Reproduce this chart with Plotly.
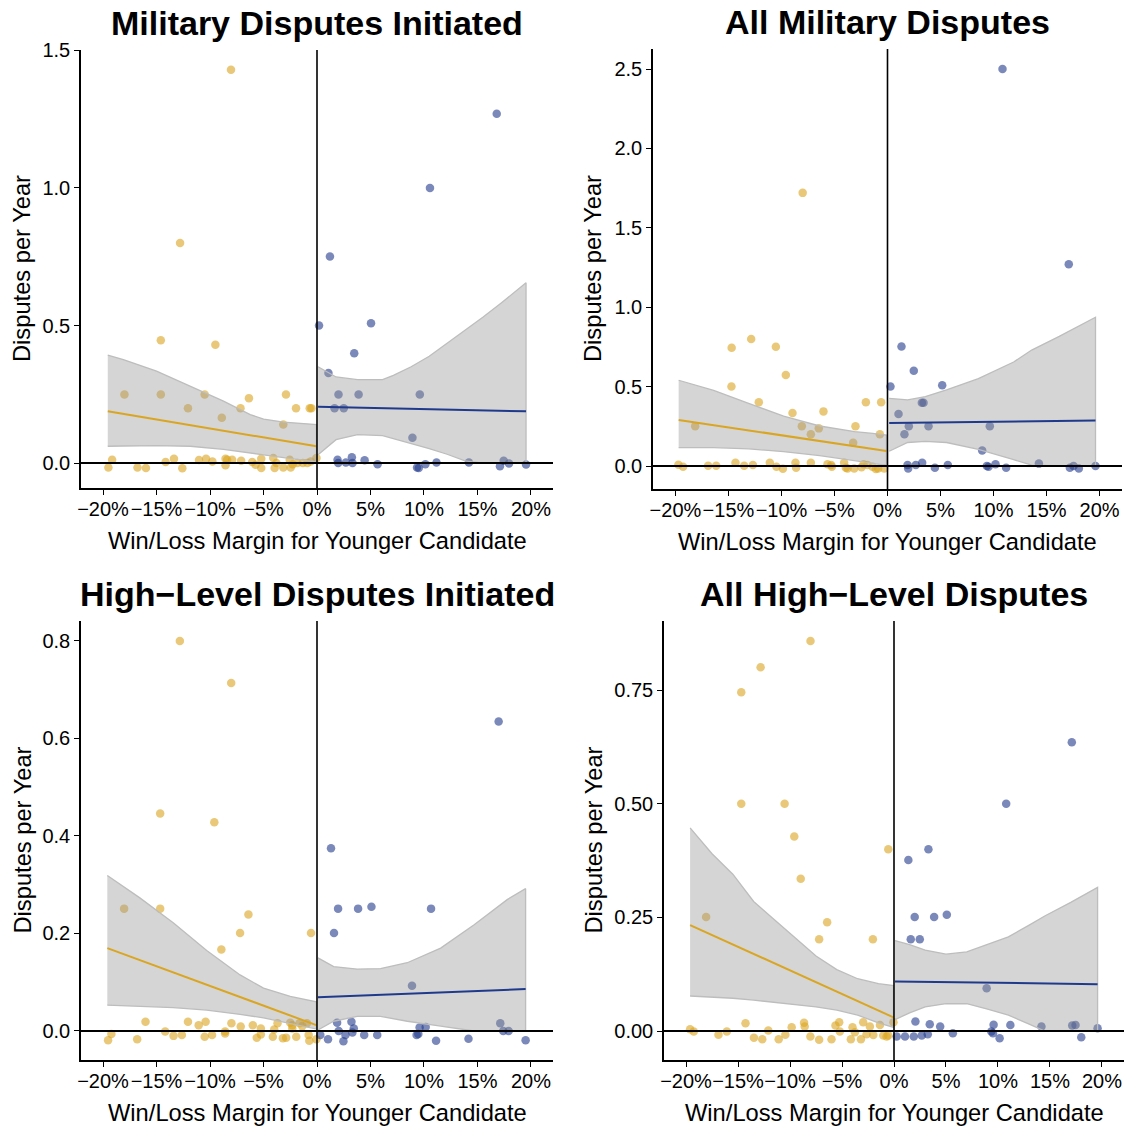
import plotly.graph_objects as go

W = H = 1129
FONT = "Liberation Sans, Arial, sans-serif"

# ---------------- data (x in percent margin, y in disputes per year) ----------------
titles = ["Military Disputes Initiated", "All Military Disputes",
          "High\u2212Level Disputes Initiated", "All High\u2212Level Disputes"]
x_title = "Win/Loss Margin for Younger Candidate"
y_title = "Disputes per Year"
x_tickvals = [-20, -15, -10, -5, 0, 5, 10, 15, 20]
x_ticktext = ["\u221220%", "\u221215%", "\u221210%", "\u22125%", "0%", "5%", "10%", "15%", "20%"]

# Panel 1: Military Disputes Initiated
p1_gold_x = [-8.04, -12.8, -14.6, -9.5, -18.0, -14.6, -10.5, -12.06, -6.36, -8.9, -7.15, -2.9, -1.96, -0.68, -0.52, -3.15,
             -19.15, -19.5, -16.78, -15.99, -14.15, -13.37, -12.59, -11.03, -10.37, -9.78, -8.55, -8.55, -8.4, -7.93,
             -7.09, -6.06, -5.74, -5.21, -5.21, -4.09, -3.96, -3.8, -3.15, -2.55, -2.46, -2.27, -1.83, -1.33, -0.9,
             -0.59, -0.05]
p1_gold_y = [1.43, 0.80, 0.446, 0.43, 0.249, 0.249, 0.249, 0.199, 0.236, 0.165, 0.199, 0.249, 0.199, 0.199, 0.199, 0.14,
             0.012, -0.016, -0.016, -0.018, 0.004, 0.016, -0.019, 0.011, 0.016, 0.006, 0.016, -0.008, 0.012, 0.012,
             0.008, 0.004, -0.006, 0.016, -0.018, 0.018, -0.018, 0.0, -0.016, 0.012, -0.016, -0.004, 0.0, 0.0, 0.0,
             0.006, 0.018]
p1_blue_x = [1.21, 10.56, 16.8, 0.19, 5.05, 3.48, 1.07, 2.01, 3.89, 9.61, 1.64, 2.5, 8.92,
             1.92, 1.98, 2.7, 3.26, 3.32, 4.45, 5.66, 9.35, 9.51, 10.13, 11.17, 14.2, 17.1, 17.45, 17.95, 19.54]
p1_blue_y = [0.751, 1.0, 1.27, 0.5, 0.508, 0.399, 0.327, 0.249, 0.249, 0.249, 0.199, 0.199, 0.092,
             0.012, 0.0, 0.002, 0.021, 0.0, 0.01, -0.004, -0.016, -0.018, -0.004, 0.002, 0.002, -0.012, 0.008,
             -0.002, -0.005]
p1_gold_fit_x = [-19.56, -0.05]
p1_gold_fit_y = [0.188, 0.061]
p1_blue_fit_x = [0.1, 19.54]
p1_blue_fit_y = [0.205, 0.188]
p1_band_left_x = [-19.56, -18.1, -15.0, -11.86, -8.74, -6.24, -4.99, -3.12, -1.24, -0.05]
p1_band_left_hi = [0.392, 0.376, 0.334, 0.279, 0.225, 0.176, 0.16, 0.149, 0.142, 0.14]
p1_band_left_lo = [0.061, 0.062, 0.063, 0.061, 0.05, 0.036, 0.03, 0.02, 0.011, 0.004]
p1_band_right_x = [0.1, 1.78, 3.79, 6.13, 7.14, 8.8, 10.49, 12.16, 13.84, 15.5, 17.19, 19.54]
p1_band_right_hi = [0.35, 0.313, 0.303, 0.303, 0.319, 0.35, 0.388, 0.435, 0.482, 0.53, 0.581, 0.655]
p1_band_right_lo = [0.03, 0.085, 0.103, 0.1, 0.09, 0.07, 0.052, 0.032, 0.008, 0.0, 0.0, 0.0]

# Panel 2: All Military Disputes
p2_gold_x = [-8.0, -14.7, -12.86, -10.53, -9.59, -14.72, -12.14, -8.96, -6.04, -2.04, -0.6, -18.14, -8.08, -7.23,
             -6.48, -3.02, -3.24, -0.72,
             -19.72, -19.28, -16.92, -16.16, -14.34, -13.52, -12.7, -11.1, -10.47, -9.87, -8.68, -8.62, -7.23,
             -5.66, -5.31, -5.25, -4.09, -3.93, -3.77, -3.14, -2.45, -2.26, -1.89, -1.42, -1.1, -0.88, -0.31]
p2_gold_y = [1.72, 0.745, 0.80, 0.751, 0.573, 0.50, 0.401, 0.334, 0.344, 0.401, 0.401, 0.25, 0.25, 0.2,
             0.237, 0.25, 0.147, 0.2,
             0.008, -0.004, 0.002, 0.002, 0.021, 0.002, 0.006, 0.021, -0.004, -0.017, 0.021, -0.011, 0.021,
             0.011, 0.006, -0.004, 0.021, -0.011, -0.015, -0.015, -0.008, 0.011, 0.006, -0.004, -0.019, -0.015,
             -0.015]
p2_blue_x = [10.85, 17.1, 1.32, 2.48, 0.28, 5.16, 3.24, 3.4, 1.04, 2.01, 3.87, 9.65, 1.6, 8.93, 14.28,
             1.89, 1.95, 2.67, 3.27, 4.47, 5.69, 9.37, 9.53, 10.19, 11.19, 17.2, 17.55, 18.05, 19.62]
p2_blue_y = [2.5, 1.27, 0.752, 0.60, 0.50, 0.508, 0.399, 0.399, 0.328, 0.25, 0.25, 0.25, 0.2, 0.097, 0.015,
             0.006, -0.015, 0.006, 0.021, -0.011, 0.006, 0.0, -0.004, 0.011, -0.011, -0.011, 0.0, -0.015, 0.0]
p2_gold_fit_x = [-19.7, -0.1]
p2_gold_fit_y = [0.29, 0.095]
p2_blue_fit_x = [0.16, 19.62]
p2_blue_fit_y = [0.271, 0.286]
p2_band_left_x = [-19.7, -16.4, -13.1, -9.8, -6.4, -3.1, -1.4, -0.1]
p2_band_left_hi = [0.54, 0.476, 0.394, 0.314, 0.252, 0.217, 0.205, 0.195]
p2_band_left_lo = [0.116, 0.116, 0.108, 0.09, 0.066, 0.035, 0.017, 0.004]
p2_band_right_x = [0.16, 1.9, 3.57, 5.57, 8.57, 11.9, 13.6, 16.2, 19.62]
p2_band_right_hi = [0.426, 0.416, 0.437, 0.48, 0.55, 0.655, 0.73, 0.816, 0.937]
p2_band_right_lo = [0.093, 0.148, 0.155, 0.148, 0.105, 0.04, 0.005, 0.0, 0.0]

# Panel 3: High-Level Disputes Initiated
p3_gold_x = [-12.82, -8.02, -14.66, -9.6, -18.03, -14.66, -6.41, -7.19, -8.94, -0.56,
             -19.22, -19.53, -16.81, -16.03, -14.19, -13.41, -12.63, -12.06, -11.06, -10.41, -10.5, -9.81, -8.59,
             -8.59, -8.0, -7.13, -6.0, -5.63, -5.25, -5.25, -4.13, -4.0, -3.69, -3.19, -2.88, -2.5, -2.31, -2.31,
             -1.94, -1.63, -1.38, -0.94, -0.78, -0.72, -0.06]
p3_gold_y = [0.80, 0.714, 0.446, 0.428, 0.251, 0.251, 0.239, 0.201, 0.167, 0.201,
             -0.006, -0.019, -0.017, 0.019, -0.001, -0.01, -0.008, 0.019, 0.012, 0.019, -0.012, -0.008, -0.001,
             -0.005, 0.016, 0.009, 0.012, -0.014, 0.005, -0.007, -0.012, 0.003, 0.016, -0.015, -0.014, 0.017,
             0.005, 0.012, -0.012, 0.016, 0.01, 0.016, -0.008, -0.02, -0.017]
p3_blue_x = [16.98, 1.31, 1.97, 3.84, 5.09, 10.66, 1.59, 8.88,
             0.31, 1.03, 1.88, 2.03, 2.47, 2.66, 3.22, 3.31, 3.44, 4.41, 5.63, 9.31, 9.47, 9.59, 10.16, 11.13,
             14.16, 17.13, 17.41, 17.91, 19.5]
p3_blue_y = [0.635, 0.375, 0.251, 0.251, 0.255, 0.251, 0.201, 0.093,
             -0.008, -0.017, 0.017, 0.0, -0.021, -0.008, 0.019, -0.003, 0.005, -0.008, -0.008, -0.008, -0.006,
             0.007, 0.008, -0.02, -0.016, 0.016, 0.0, 0.0, -0.019]
p3_gold_fit_x = [-19.6, -0.06]
p3_gold_fit_y = [0.170, 0.012]
p3_blue_fit_x = [0.09, 19.5]
p3_blue_fit_y = [0.069, 0.086]
p3_band_left_x = [-19.6, -16.56, -13.44, -10.31, -7.19, -5.0, -2.5, -0.06]
p3_band_left_hi = [0.319, 0.273, 0.222, 0.165, 0.115, 0.088, 0.071, 0.06]
p3_band_left_lo = [0.053, 0.051, 0.048, 0.043, 0.034, 0.027, 0.016, 0.004]
p3_band_right_x = [0.09, 1.56, 3.75, 5.94, 8.44, 11.56, 14.69, 17.81, 19.5]
p3_band_right_hi = [0.15, 0.132, 0.127, 0.128, 0.14, 0.17, 0.218, 0.27, 0.292]
p3_band_right_lo = [0.002, 0.02, 0.03, 0.03, 0.02, 0.01, 0.0, 0.0, 0.0]

# Panel 4: All High-Level Disputes
p4_gold_x = [-8.03, -12.83, -14.69, -14.69, -10.52, -9.59, -0.55, -8.97, -18.07, -6.43, -7.2, -2.03,
             -19.61, -19.26, -16.88, -16.08, -14.28, -13.47, -12.67, -12.09, -11.09, -10.45, -9.84, -8.65, -8.59,
             -8.04, -7.2, -6.01, -5.63, -5.27, -5.21, -4.15, -3.99, -3.76, -3.18, -2.96, -2.64, -2.32, -1.99,
             -1.35, -1.03, -0.71, -0.55, -0.05]
p4_gold_y = [0.858, 0.80, 0.745, 0.50, 0.50, 0.428, 0.40, 0.335, 0.251, 0.239, 0.202, 0.202,
             0.004, -0.001, -0.008, -0.001, 0.017, -0.015, -0.018, 0.001, -0.018, -0.008, 0.008, 0.018, 0.01,
             -0.012, -0.019, -0.018, 0.012, 0.019, -0.001, -0.018, 0.008, -0.003, -0.018, 0.019, -0.007, 0.01,
             -0.009, 0.013, -0.01, -0.012, -0.01, 0.019]
p4_blue_x = [17.1, 10.79, 3.31, 1.38, 1.99, 3.86, 5.08, 1.61, 2.48, 8.91,
             0.26, 1.06, 1.9, 2.06, 2.67, 3.25, 3.44, 4.44, 5.66, 9.36, 9.52, 9.58, 10.16, 11.19, 14.18, 17.14,
             17.46, 18.01, 19.58]
p4_blue_y = [0.635, 0.50, 0.40, 0.376, 0.251, 0.251, 0.256, 0.202, 0.202, 0.094,
             -0.012, -0.012, -0.012, 0.021, -0.01, -0.007, 0.015, 0.01, -0.005, -0.001, -0.005, 0.014, -0.016,
             0.013, 0.01, 0.012, 0.013, -0.014, 0.006]
p4_gold_fit_x = [-19.61, -0.05]
p4_gold_fit_y = [0.233, 0.030]
p4_blue_fit_x = [0.1, 19.58]
p4_blue_fit_y = [0.109, 0.103]
p4_band_left_x = [-19.61, -17.5, -15.5, -13.5, -11.5, -9.5, -7.5, -5.5, -3.5, -1.5, -0.05]
p4_band_left_hi = [0.447, 0.39, 0.345, 0.285, 0.245, 0.205, 0.165, 0.135, 0.115, 0.104, 0.10]
p4_band_left_lo = [0.077, 0.075, 0.072, 0.068, 0.064, 0.058, 0.053, 0.046, 0.035, 0.018, 0.008]
p4_band_right_x = [0.1, 1.5, 3.0, 5.0, 7.0, 9.0, 11.0, 13.0, 14.5, 17.0, 19.58]
p4_band_right_hi = [0.199, 0.19, 0.178, 0.169, 0.174, 0.19, 0.207, 0.233, 0.253, 0.283, 0.316]
p4_band_right_lo = [0.025, 0.04, 0.053, 0.06, 0.06, 0.048, 0.035, 0.015, 0.0, 0.0, 0.0]

y_tickvals = [[0, 0.5, 1.0, 1.5], [0, 0.5, 1.0, 1.5, 2.0, 2.5], [0, 0.2, 0.4, 0.6, 0.8], [0, 0.25, 0.5, 0.75]]
y_tickformat = [".1f", ".1f", ".1f", ".2f"]

# ---------------- layout geometry (pixels) ----------------
geom = [
    dict(px=(81, 553), py=(50, 488), xr=(-22.06, 22.06), yr=(-0.0907, 1.5015), ytx=22),
    dict(px=(653, 1122), py=(49, 489), xr=(-22.12, 22.12), yr=(-0.1448, 2.626), ytx=593),
    dict(px=(81, 553), py=(621, 1060), xr=(-22.06, 22.06), yr=(-0.0595, 0.841), ytx=22),
    dict(px=(664, 1124), py=(621, 1060), xr=(-22.12, 22.12), yr=(-0.0638, 0.902), ytx=593),
]

panels = [
    (p1_gold_x, p1_gold_y, p1_blue_x, p1_blue_y, p1_gold_fit_x, p1_gold_fit_y, p1_blue_fit_x, p1_blue_fit_y,
     p1_band_left_x, p1_band_left_hi, p1_band_left_lo, p1_band_right_x, p1_band_right_hi, p1_band_right_lo),
    (p2_gold_x, p2_gold_y, p2_blue_x, p2_blue_y, p2_gold_fit_x, p2_gold_fit_y, p2_blue_fit_x, p2_blue_fit_y,
     p2_band_left_x, p2_band_left_hi, p2_band_left_lo, p2_band_right_x, p2_band_right_hi, p2_band_right_lo),
    (p3_gold_x, p3_gold_y, p3_blue_x, p3_blue_y, p3_gold_fit_x, p3_gold_fit_y, p3_blue_fit_x, p3_blue_fit_y,
     p3_band_left_x, p3_band_left_hi, p3_band_left_lo, p3_band_right_x, p3_band_right_hi, p3_band_right_lo),
    (p4_gold_x, p4_gold_y, p4_blue_x, p4_blue_y, p4_gold_fit_x, p4_gold_fit_y, p4_blue_fit_x, p4_blue_fit_y,
     p4_band_left_x, p4_band_left_hi, p4_band_left_lo, p4_band_right_x, p4_band_right_hi, p4_band_right_lo),
]

GOLD_PT = "rgba(218,165,32,0.6)"
BLUE_PT = "rgba(35,58,140,0.6)"
GOLD_LN = "#DAA520"
BLUE_LN = "#1F3A8C"
BAND_FILL = "rgba(150,150,150,0.4)"
BAND_LINE = "#BDBDBD"

fig = go.Figure()
layout = dict(width=W, height=H, autosize=False, margin=dict(l=0, r=0, t=0, b=0, pad=0),
              paper_bgcolor="white", plot_bgcolor="white", showlegend=False,
              font=dict(family=FONT, color="black"))
shapes = []
annotations = []

for i, (g, p) in enumerate(zip(geom, panels)):
    (gx, gy, bx, by, gfx, gfy, bfx, bfy, blx, blh, bll, brx, brh, brl) = p
    n = i + 1
    xa = "x" if n == 1 else f"x{n}"
    ya = "y" if n == 1 else f"y{n}"
    common = dict(xaxis=xa, yaxis=ya, showlegend=False, hoverinfo="skip")
    fig.add_trace(go.Scatter(x=gx, y=gy, mode="markers", marker=dict(size=8.5, color=GOLD_PT), **common))
    fig.add_trace(go.Scatter(x=bx, y=by, mode="markers", marker=dict(size=8.5, color=BLUE_PT), **common))
    for bxs, bhi, blo in ((blx, blh, bll), (brx, brh, brl)):
        fig.add_trace(go.Scatter(x=list(bxs) + list(bxs)[::-1], y=list(bhi) + list(blo)[::-1],
                                 mode="lines", fill="toself", fillcolor=BAND_FILL,
                                 line=dict(color=BAND_LINE, width=1.3), **common))
    fig.add_trace(go.Scatter(x=gfx, y=gfy, mode="lines", line=dict(color=GOLD_LN, width=2), **common))
    fig.add_trace(go.Scatter(x=bfx, y=bfy, mode="lines", line=dict(color=BLUE_LN, width=2), **common))

    x0, x1 = g["px"]
    y0, y1 = g["py"]
    xdom = [x0 / W, x1 / W]
    ydom = [1 - y1 / H, 1 - y0 / H]
    axis_common = dict(showgrid=False, zeroline=False, showline=True, linecolor="black", linewidth=1.5,
                       ticks="outside", ticklen=5, tickwidth=1.3, tickcolor="black", automargin=False,
                       tickfont=dict(size=20, family=FONT, color="black"), fixedrange=True)
    layout["xaxis" if n == 1 else f"xaxis{n}"] = dict(
        domain=xdom, range=list(g["xr"]), anchor=ya, tickvals=x_tickvals, ticktext=x_ticktext,
        tickangle=0, ticklabelstandoff=-3, **axis_common)
    layout["yaxis" if n == 1 else f"yaxis{n}"] = dict(
        domain=ydom, range=list(g["yr"]), anchor=xa, tickvals=y_tickvals[i], tickformat=y_tickformat[i],
        **axis_common)

    # reference lines at zero
    shapes.append(dict(type="line", xref=xa, yref=f"{ya} domain", x0=0, x1=0, y0=0, y1=1,
                       line=dict(color="black", width=1.6), layer="above"))
    shapes.append(dict(type="line", xref=f"{xa} domain", yref=ya, x0=0, x1=1, y0=0, y1=0,
                       line=dict(color="black", width=2), layer="above"))

    cx = (x0 + x1) / 2 / W
    annotations.append(dict(text=f"<b>{titles[i]}</b>", x=cx, y=1 - (y0 - 27) / H, xref="paper", yref="paper",
                            showarrow=False, xanchor="center", yanchor="middle",
                            font=dict(size=34, family=FONT, color="black")))
    annotations.append(dict(text=x_title, x=cx, y=1 - (y1 + 53) / H, xref="paper", yref="paper",
                            showarrow=False, xanchor="center", yanchor="middle",
                            font=dict(size=23.7, family=FONT, color="black")))
    annotations.append(dict(text=y_title, x=g["ytx"] / W, y=1 - (y0 + y1) / 2 / H, xref="paper", yref="paper",
                            showarrow=False, xanchor="center", yanchor="middle", textangle=-90,
                            font=dict(size=23.7, family=FONT, color="black")))

layout["shapes"] = shapes
layout["annotations"] = annotations
fig.update_layout(**layout)
fig.write_html("out.html")
